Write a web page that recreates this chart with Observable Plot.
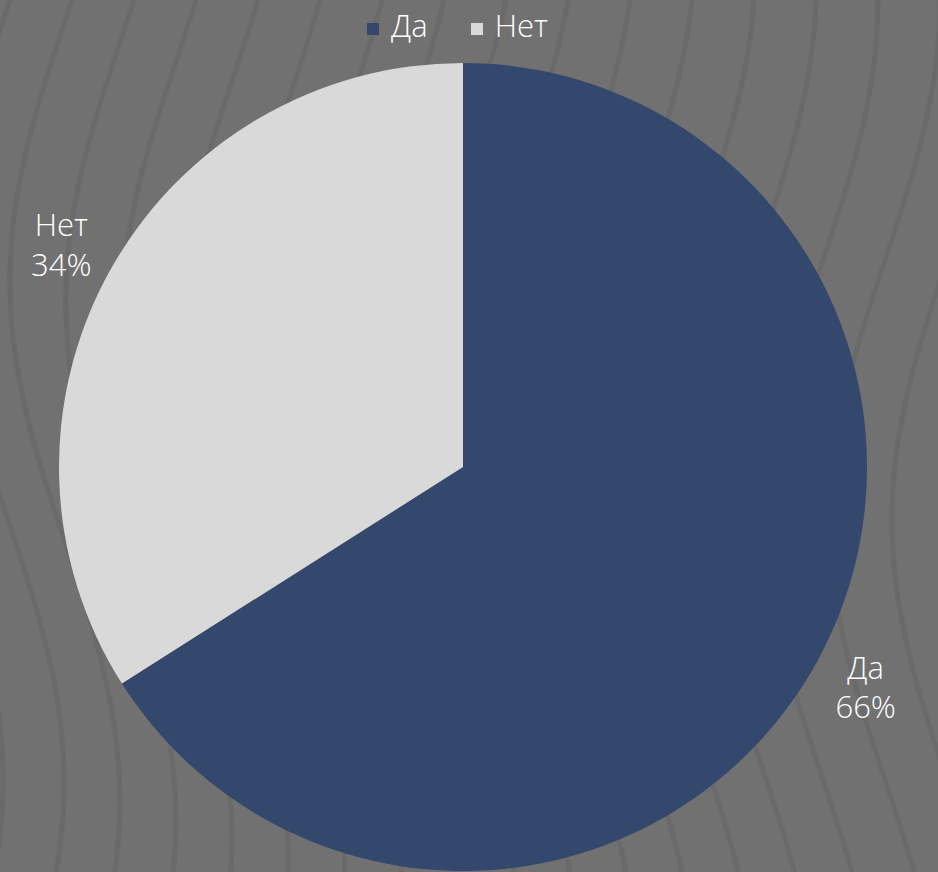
<!DOCTYPE html>
<html>
<head>
<meta charset="utf-8">
<script src="https://cdn.jsdelivr.net/npm/d3@7"></script>
<script src="https://cdn.jsdelivr.net/npm/@observablehq/plot@0.6"></script>
<style>
  html, body { margin: 0; padding: 0; width: 938px; height: 872px; overflow: hidden; background: #717171; font-family: "Open Sans", sans-serif; }
  #wrap { position: relative; width: 938px; height: 872px; }
  #bg, #chart { position: absolute; left: 0; top: 0; }
  #legend { position: absolute; left: 367px; top: 7px; display: flex; align-items: flex-start; color: #fff; font-size: 31px; line-height: 36px; font-weight: 300; }
  #legend .item { display: flex; align-items: flex-start; margin-right: 43px; }
  #legend .sw { width: 12px; height: 12px; margin-top: 16px; margin-right: 12px; }
</style>
</head>
<body>
<div id="wrap">
  <svg id="bg" width="938" height="872"></svg>
  <div id="chart"></div>
  <div id="legend"></div>
</div>
<script>
// ---- data ----
const categories = ["Да", "Нет"];
const values = [66, 34];
const percentLabels = ["66%", "34%"];
const colors = ["#34476d", "#d9d9d9"];

// ---- decorative background waves ----
(function () {
  const bg = d3.select("#bg");
  const paths = [];
  for (let x0 = -300; x0 <= 1300; x0 += 62) {
    const s = Math.max(0, Math.min(260, 0.3 * x0));
    const pts = [];
    for (let y = -20; y <= 900; y += 8) {
      const x = x0 - 55 * Math.sin(Math.PI * (y - s) / 520) - 55 * Math.sin(Math.PI * s / 520);
      pts.push([x, y]);
    }
    paths.push(pts);
  }
  bg.selectAll("path").data(paths).join("path")
    .attr("d", d3.line().curve(d3.curveBasis))
    .attr("fill", "none").attr("stroke", "#6a6a6a").attr("stroke-width", 5);
})();

// ---- pie geometry from data ----
const table = categories.map((name, i) => ({ name, value: values[i], label: percentLabels[i], color: colors[i] }));
const arcs = d3.pie().sort(null).value(d => d.value)(table);
const labelK = 1.136;
const labelData = arcs.map(a => {
  const mid = (a.startAngle + a.endAngle) / 2;
  return { x: labelK * Math.sin(mid), y: labelK * Math.cos(mid), text: a.data.name + "\n" + a.data.label };
});
const colorScale = d3.scaleOrdinal().domain(categories).range(colors);

function pieMark(index, scales) {
  const cx = scales.x(0), cy = scales.y(0), r = scales.x(1) - scales.x(0);
  const arcGen = d3.arc().innerRadius(0).outerRadius(r);
  const g = d3.create("svg:g").attr("transform", `translate(${cx},${cy})`);
  g.selectAll("path").data(arcs).join("path")
    .attr("d", arcGen)
    .attr("fill", d => colorScale(d.data.name));
  return g.node();
}

const chart = Plot.plot({
  width: 938,
  height: 872,
  marginLeft: 59,
  marginRight: 71,
  marginTop: 63,
  marginBottom: 1,
  style: { background: "transparent", fontFamily: "Open Sans" },
  x: { domain: [-1, 1], axis: null },
  y: { domain: [-1, 1], axis: null },
  marks: [
    pieMark,
    Plot.text(labelData, {
      x: "x", y: "y", text: "text",
      fill: "#ffffff", fontSize: 31, lineHeight: 1.27, fontFamily: "Open Sans", fontWeight: 300,
      dy: -3
    })
  ]
});
document.getElementById("chart").appendChild(chart);

// ---- legend ----
const legend = d3.select("#legend");
const items = legend.selectAll(".item").data(table).join("div").attr("class", "item");
items.append("div").attr("class", "sw").style("background", d => d.color);
items.append("span").text(d => d.name);
</script>
</body>
</html>
